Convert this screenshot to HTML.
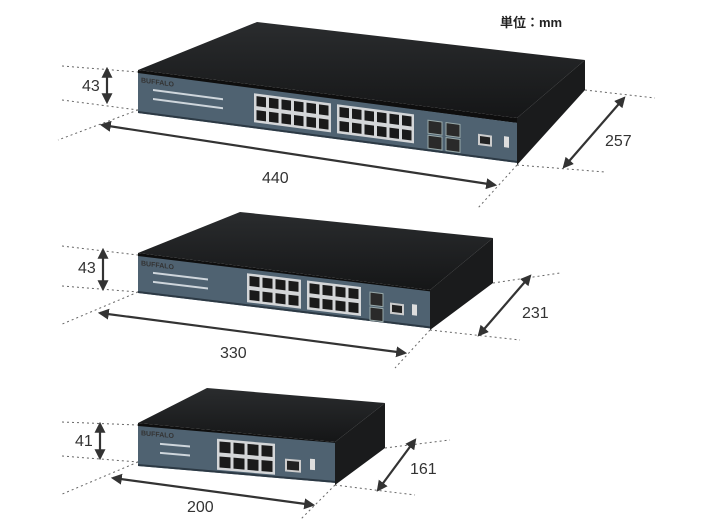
<!DOCTYPE html>
<html><head><meta charset="utf-8"><style>
html,body{margin:0;padding:0;background:#fff;}
svg{display:block;}
text{font-family:"Liberation Sans","Noto Sans CJK JP",sans-serif;fill:#333;}
</style></head><body>
<svg id="s" width="720" height="520" viewBox="0 0 720 520" xmlns="http://www.w3.org/2000/svg">
<defs>
<marker id="a" viewBox="0 0 10 10" refX="8" refY="5" markerWidth="5" markerHeight="5" orient="auto-start-reverse"><path d="M0,0L10,5L0,10z" fill="#333"/></marker>
<linearGradient id="top" x1="0" y1="0" x2="0" y2="1"><stop offset="0" stop-color="#2a2c2e"/><stop offset="1" stop-color="#151617"/></linearGradient>
</defs>
<g stroke="#666" stroke-width="1" stroke-dasharray="2,3" fill="none">
<path d="M62,66L138,72M62,100L138,110M138,110L58,140M517,165L478,208M585,90L655,98M517,165L605,172"/>
<path d="M62,246L138,255M62,286L138,292M138,292L60,325M430,330L395,368M493,283L560,273M430,330L520,340"/>
<path d="M62,422L138,425M62,456L138,462M138,462L60,495M335,485L300,520M385,448L450,440M335,485L415,495"/>
</g>
<g stroke="#333" stroke-width="2.2" fill="none" marker-start="url(#a)" marker-end="url(#a)">
<line x1="107" y1="69" x2="107" y2="102"/>
<line x1="102" y1="125" x2="495" y2="185"/>
<line x1="624" y1="98" x2="564" y2="167"/>
<line x1="103" y1="250" x2="103" y2="289"/>
<line x1="100" y1="313" x2="405" y2="353"/>
<line x1="530" y1="276" x2="479" y2="335"/>
<line x1="100" y1="424" x2="100" y2="458"/>
<line x1="113" y1="478" x2="313" y2="505"/>
<line x1="415" y1="440" x2="378" y2="490"/>
</g>
<g font-size="16">
<text x="82" y="91">43</text><text x="262" y="183">440</text><text x="605" y="146">257</text>
<text x="78" y="273">43</text><text x="220" y="358">330</text><text x="522" y="318">231</text>
<text x="75" y="446">41</text><text x="187" y="512">200</text><text x="410" y="474">161</text>
</g>
<text x="500" y="27" font-size="13" font-weight="bold" style="fill:#222">単位：mm</text>
<g id="sw"></g>
</svg>
<script>
var NS="http://www.w3.org/2000/svg",g=document.getElementById("sw");
function el(t,a,p){var e=document.createElementNS(NS,t);for(var k in a)e.setAttribute(k,a[k]);(p||g).appendChild(e);return e;}
function sw(o){
 el("polygon",{points:o.fl+" "+o.bl+" "+o.br+" "+o.fr,fill:"url(#top)"});
 el("polygon",{points:o.fr+" "+o.br+" "+o.brb+" "+o.frb,fill:"#1a1b1c"});
 el("polygon",{points:o.fl+" "+o.fr+" "+o.fr[0]+","+(o.fr[1]+5)+" "+o.fl[0]+","+(o.fl[1]+4),fill:"#0e0e0e"});
 var w=o.fr[0]-o.fl[0];
 var gp=el("g",{transform:"translate("+o.fl[0]+","+(o.fl[1]+3)+") skewY("+o.ang+")"});
 el("rect",{x:0,y:0,width:w,height:o.h,fill:"#4f6271"},gp);
 el("rect",{x:0,y:o.h-2,width:w,height:2,fill:"#2c3944"},gp);
 el("text",{x:3,y:9,"font-size":"7","font-weight":"bold",fill:"#dde"},gp).textContent="BUFFALO";
 for(var r=0;r<2;r++)el("rect",{x:o.led[0],y:o.led[1]+r*9,width:o.led[2],height:2,fill:"#cfd6dc"},gp);
 o.groups.forEach(function(G){
  el("rect",{x:G[0]-1,y:G[1]-1,width:G[2]*o.pw+2,height:2*o.ph+3,fill:"#d4d6d8"},gp);
  for(var r=0;r<2;r++)for(var c=0;c<G[2];c++)
   el("rect",{x:G[0]+c*o.pw+1.5,y:G[1]+r*(o.ph+1)+1.5,width:o.pw-3,height:o.ph-3,fill:"#1a1a1a"},gp);
 });
 (o.sfp||[]).forEach(function(S){for(var r=0;r<2;r++)el("rect",{x:S[0],y:S[1]+r*(o.ph+2),width:S[2],height:o.ph,fill:"#2a2a2a",stroke:"#9aa","stroke-width":1},gp);});
 el("rect",{x:o.con[0],y:o.con[1],width:o.con[2],height:o.con[2]*0.8,fill:"#ccc"},gp);
 el("rect",{x:o.con[0]+2,y:o.con[1]+2,width:o.con[2]-4,height:o.con[2]*0.8-4,fill:"#222"},gp);
 el("rect",{x:o.usb[0],y:o.usb[1],width:5,height:11,fill:"#ddd"},gp);
}
sw({fl:[138,70],bl:[257,22],br:[585,60],fr:[517,118],brb:[585,90],frb:[517,165],ang:7.5,h:40,
 led:[15,14,70],pw:12.5,ph:13,groups:[[117,6,6],[200,6,6]],sfp:[[290,9,14],[308,9,14]],con:[340,16,14],usb:[366,15]});
sw({fl:[138,253],bl:[240,212],br:[493,238],fr:[430,290],brb:[493,283],frb:[430,330],ang:6.9,h:37,
 led:[15,14,55],pw:13,ph:13,groups:[[110,5,4],[170,5,4]],sfp:[[232,8,13]],con:[252,16,14],usb:[274,15]});
sw({fl:[138,423],bl:[207,388],br:[385,403],fr:[335,442],brb:[385,448],frb:[335,485],ang:4.9,h:40,
 led:[22,15,30],pw:14,ph:14,groups:[[80,7,4]],sfp:[],con:[147,20,16],usb:[172,18]});
</script>
</body></html>
